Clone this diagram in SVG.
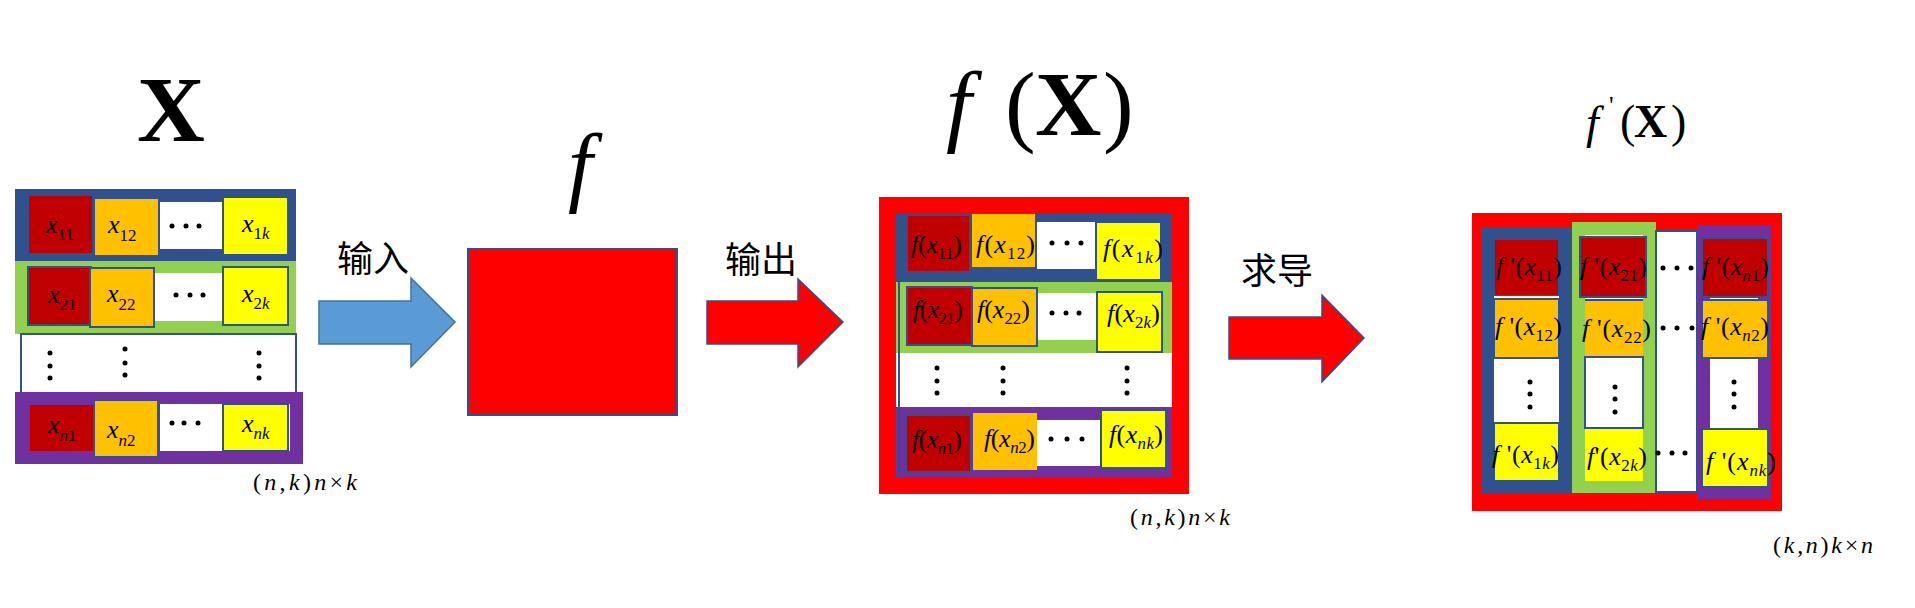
<svg xmlns="http://www.w3.org/2000/svg" width="1915" height="608" viewBox="0 0 1915 608">
<style>
.m{font-family:"Liberation Serif","Times New Roman",serif;font-style:italic;font-size:26px;fill:#000}
.r{font-style:normal}
.s{font-size:17px;font-style:normal}
.si{font-size:17px;font-style:italic}
.lab{font-family:"Liberation Serif","Times New Roman",serif;font-style:italic;font-size:24px;fill:#000}
.cjk{font-family:"Noto Sans CJK SC","Noto Sans",sans-serif;font-size:36px;fill:#000}
.ttl{font-family:"Liberation Serif","Times New Roman",serif;fill:#000}
.dr{fill:#C00000}.or{fill:#FFC000}.ye{fill:#FFFF00}.wh{fill:#FFFFFF}
.bl{fill:#2F528F}.gr{fill:#92D050}.pu{fill:#7030A0}.rd{fill:#FF0000}
.bd{stroke:#2F528F;stroke-width:2}
.dot{fill:#000}
</style>

<!-- Titles -->
<g id="title-x"><text class="ttl" x="137" y="141" font-size="94" font-weight="bold">X</text></g>
<g id="title-f"><text class="ttl" x="568" y="195" font-size="88" font-style="italic">f</text></g>
<g id="title-fx">
<text class="ttl" x="946" y="135" font-size="92" font-style="italic">f</text>
<text class="ttl" x="1005" y="135" font-size="92">(</text>
<text class="ttl" x="1035" y="135" font-size="92" font-weight="bold">X</text>
<text class="ttl" x="1103" y="135" font-size="92">)</text>
</g>
<g id="title-fpx">
<text class="ttl" x="1586" y="138" font-size="46" font-style="italic">f</text>
<text class="ttl" x="1609" y="114" font-size="26">'</text>
<text class="ttl" x="1620" y="137" font-size="46">(</text>
<text class="ttl" x="1634" y="137" font-size="46" font-weight="bold">X</text>
<text class="ttl" x="1671" y="137" font-size="46">)</text>
</g>

<!-- Matrix X -->
<g id="matrix-x">
<rect class="bl" x="15" y="189" width="281" height="72"/>
<rect class="dr" x="29" y="196" width="63" height="57"/>
<rect class="or" x="95" y="199" width="63" height="56"/>
<rect class="wh" x="160" y="202" width="62" height="47"/>
<rect class="ye" x="224" y="198" width="63" height="56"/>
<rect class="gr" x="15" y="261" width="281" height="73"/>
<rect class="wh" x="154" y="273" width="69" height="48"/>
<rect class="dr bd" x="28" y="267" width="63" height="58"/>
<rect class="or bd" x="90" y="268" width="64" height="59"/>
<rect class="ye bd" x="223" y="267" width="65" height="58"/>
<rect class="wh bd" x="21" y="334" width="275" height="59" stroke-width="1.5"/>
<rect class="pu" x="15" y="392" width="288" height="72"/>
<rect class="dr" x="30" y="405" width="63" height="46"/>
<rect class="wh" x="160" y="404" width="62" height="47"/>
<rect class="wh" x="286" y="404" width="4" height="47"/>
<rect class="or bd" x="94" y="400" width="64" height="57"/>
<rect class="ye bd" x="223" y="404" width="65" height="47"/>
<text class="m" x="46" y="233">x<tspan class="s" dy="7">11</tspan></text>
<text class="m" x="108" y="233">x<tspan class="s" dy="8">12</tspan></text>
<text class="m" x="242" y="232">x<tspan class="s" dy="7">1</tspan><tspan class="si">k</tspan></text>
<text class="m" x="48" y="303">x<tspan class="s" dy="7">21</tspan></text>
<text class="m" x="107" y="302">x<tspan class="s" dy="8">22</tspan></text>
<text class="m" x="242" y="302">x<tspan class="s" dy="7">2</tspan><tspan class="si">k</tspan></text>
<text class="m" x="48" y="433">x<tspan class="si" dy="8">n</tspan><tspan class="s">1</tspan></text>
<text class="m" x="107" y="438">x<tspan class="si" dy="8">n</tspan><tspan class="s">2</tspan></text>
<text class="m" x="242" y="432">x<tspan class="si" dy="7">nk</tspan></text>
<g class="dot">
<circle cx="172" cy="226" r="2.5"/><circle cx="186" cy="226" r="2.5"/><circle cx="199" cy="226" r="2.5"/>
<circle cx="176" cy="295" r="2.5"/><circle cx="190" cy="295" r="2.5"/><circle cx="203" cy="295" r="2.5"/>
<circle cx="172" cy="423" r="2.5"/><circle cx="184" cy="423" r="2.5"/><circle cx="198" cy="423" r="2.5"/>
<circle cx="50" cy="353" r="2.5"/><circle cx="50" cy="366" r="2.5"/><circle cx="50" cy="378" r="2.5"/>
<circle cx="125" cy="349" r="2.5"/><circle cx="125" cy="363" r="2.5"/><circle cx="125" cy="375" r="2.5"/>
<circle cx="259" cy="353" r="2.5"/><circle cx="259" cy="366" r="2.5"/><circle cx="259" cy="378" r="2.5"/>
</g>
<text class="lab" x="253" y="490" textLength="104" lengthAdjust="spacing"><tspan class="r">(</tspan>n<tspan class="r">,</tspan>k<tspan class="r">)</tspan>n<tspan class="r">×</tspan>k</text>
</g>

<!-- Function box -->
<g id="func-f">
<rect x="468" y="249" width="209" height="166" fill="#FF0000" stroke="#2F528F" stroke-width="2"/>
</g>

<!-- Matrix f(X) -->
<g id="matrix-fx">
<rect class="rd" x="879" y="197" width="310" height="297"/>
<rect class="bl" x="896" y="214" width="276" height="68"/>
<rect class="dr bd" x="907" y="215" width="63" height="57"/>
<rect class="or" x="972" y="214" width="63" height="53"/>
<rect class="wh" x="1037" y="222" width="58" height="47"/>
<rect class="ye" x="1097" y="223" width="63" height="56"/>
<rect class="gr" x="896" y="282" width="276" height="71"/>
<rect class="wh" x="1037" y="293" width="60" height="47"/>
<rect class="dr bd" x="907" y="287" width="65" height="58"/>
<rect class="or bd" x="972" y="288" width="65" height="58"/>
<rect class="ye bd" x="1097" y="292" width="65" height="60"/>
<rect class="wh" x="896" y="353" width="276" height="54"/>
<rect class="pu" x="896" y="407" width="276" height="70"/>
<rect class="or" x="973" y="413" width="64" height="57"/>
<rect class="wh" x="1037" y="420" width="64" height="46"/>
<rect class="dr bd" x="906" y="415" width="65" height="57"/>
<rect class="ye bd" x="1101" y="410" width="65" height="58"/>
<line x1="899" y1="282" x2="899" y2="477" stroke="#2F528F" stroke-width="2"/>
<text class="m" x="911" y="253" textLength="51" lengthAdjust="spacing">f<tspan class="r">(</tspan>x<tspan class="s" dy="6">11</tspan><tspan class="r" dy="-6">)</tspan></text>
<text class="m" x="976" y="253" textLength="59" lengthAdjust="spacing">f<tspan class="r">(</tspan>x<tspan class="s" dy="6">12</tspan><tspan class="r" dy="-6">)</tspan></text>
<text class="m" x="1103" y="257" textLength="60" lengthAdjust="spacing">f<tspan class="r">(</tspan>x<tspan class="s" dy="6">1</tspan><tspan class="si">k</tspan><tspan class="r" dy="-6">)</tspan></text>
<text class="m" x="913" y="318" textLength="50" lengthAdjust="spacing">f<tspan class="r">(</tspan>x<tspan class="s" dy="6">21</tspan><tspan class="r" dy="-6">)</tspan></text>
<text class="m" x="977" y="318" textLength="53" lengthAdjust="spacing">f<tspan class="r">(</tspan>x<tspan class="s" dy="6">22</tspan><tspan class="r" dy="-6">)</tspan></text>
<text class="m" x="1107" y="322" textLength="53" lengthAdjust="spacing">f<tspan class="r">(</tspan>x<tspan class="s" dy="6">2</tspan><tspan class="si">k</tspan><tspan class="r" dy="-6">)</tspan></text>
<text class="m" x="912" y="448" textLength="50" lengthAdjust="spacing">f<tspan class="r">(</tspan>x<tspan class="si" dy="6">n</tspan><tspan class="s">1</tspan><tspan class="r" dy="-6">)</tspan></text>
<text class="m" x="984" y="447" textLength="51" lengthAdjust="spacing">f<tspan class="r">(</tspan>x<tspan class="si" dy="6">n</tspan><tspan class="s">2</tspan><tspan class="r" dy="-6">)</tspan></text>
<text class="m" x="1109" y="443" textLength="54" lengthAdjust="spacing">f<tspan class="r">(</tspan>x<tspan class="si" dy="6">nk</tspan><tspan class="r" dy="-6">)</tspan></text>
<g class="dot">
<circle cx="1052" cy="243" r="2.5"/><circle cx="1067" cy="243" r="2.5"/><circle cx="1081" cy="243" r="2.5"/>
<circle cx="1052" cy="313" r="2.5"/><circle cx="1066" cy="313" r="2.5"/><circle cx="1079" cy="313" r="2.5"/>
<circle cx="1051" cy="439" r="2.5"/><circle cx="1067" cy="439" r="2.5"/><circle cx="1082" cy="439" r="2.5"/>
<circle cx="937" cy="368" r="2.5"/><circle cx="937" cy="381" r="2.5"/><circle cx="937" cy="393" r="2.5"/>
<circle cx="1003" cy="368" r="2.5"/><circle cx="1003" cy="381" r="2.5"/><circle cx="1003" cy="393" r="2.5"/>
<circle cx="1127" cy="368" r="2.5"/><circle cx="1127" cy="381" r="2.5"/><circle cx="1127" cy="393" r="2.5"/>
</g>
<text class="lab" x="1130" y="525" textLength="100" lengthAdjust="spacing"><tspan class="r">(</tspan>n<tspan class="r">,</tspan>k<tspan class="r">)</tspan>n<tspan class="r">×</tspan>k</text>
</g>

<!-- Matrix f'(X) -->
<g id="matrix-fpx">
<rect class="rd" x="1472" y="213" width="310" height="298"/>
<rect class="bl" x="1481" y="227" width="91" height="266"/>
<rect class="dr" x="1495" y="240" width="63" height="55"/>
<rect class="wh" x="1494" y="296" width="65" height="2"/>
<rect class="or" x="1495" y="300" width="63" height="57"/>
<rect class="wh" x="1494" y="359" width="65" height="63"/>
<rect class="ye" x="1495" y="424" width="63" height="56"/>
<rect class="gr" x="1572" y="222" width="84" height="271"/>
<rect class="wh" x="1585" y="235" width="58" height="64"/>
<rect class="or" x="1585" y="300" width="58" height="57"/>
<line x1="1585" y1="300" x2="1643" y2="300" stroke="#2F528F" stroke-width="2"/>
<rect class="wh bd" x="1585" y="357" width="58" height="71"/>
<rect class="ye" x="1585" y="429" width="58" height="52"/>
<rect class="dr bd" x="1580" y="237" width="66" height="60"/>
<rect class="wh bd" x="1656" y="231" width="41" height="261" stroke-width="1.5"/>
<rect class="pu" x="1697" y="225" width="74" height="274"/>
<rect class="wh" x="1710" y="297" width="48" height="2"/>
<rect class="wh" x="1710" y="359" width="48" height="69"/>
<rect class="dr bd" x="1702" y="238" width="66" height="59"/>
<rect class="or bd" x="1702" y="300" width="66" height="58"/>
<rect class="ye bd" x="1702" y="429" width="66" height="58"/>
<text class="m" x="1496" y="275" textLength="66" lengthAdjust="spacing">f<tspan class="r"> '(</tspan>x<tspan class="s" dy="6">11</tspan><tspan class="r" dy="-6">)</tspan></text>
<text class="m" x="1580" y="275" textLength="67" lengthAdjust="spacing">f<tspan class="r"> '(</tspan>x<tspan class="s" dy="6">21</tspan><tspan class="r" dy="-6">)</tspan></text>
<text class="m" x="1702" y="275" textLength="67" lengthAdjust="spacing">f<tspan class="r"> '(</tspan>x<tspan class="si" dy="6">n</tspan><tspan class="s">1</tspan><tspan class="r" dy="-6">)</tspan></text>
<text class="m" x="1495" y="335" textLength="67" lengthAdjust="spacing">f<tspan class="r"> '(</tspan>x<tspan class="s" dy="6">12</tspan><tspan class="r" dy="-6">)</tspan></text>
<text class="m" x="1582" y="337" textLength="69" lengthAdjust="spacing">f<tspan class="r"> '(</tspan>x<tspan class="s" dy="6">22</tspan><tspan class="r" dy="-6">)</tspan></text>
<text class="m" x="1701" y="335" textLength="68" lengthAdjust="spacing">f<tspan class="r"> '(</tspan>x<tspan class="si" dy="6">n</tspan><tspan class="s">2</tspan><tspan class="r" dy="-6">)</tspan></text>
<text class="m" x="1492" y="463" textLength="67" lengthAdjust="spacing">f<tspan class="r"> '(</tspan>x<tspan class="s" dy="6">1</tspan><tspan class="si">k</tspan><tspan class="r" dy="-6">)</tspan></text>
<text class="m" x="1587" y="465" textLength="60" lengthAdjust="spacing">f<tspan class="r">'(</tspan>x<tspan class="s" dy="6">2</tspan><tspan class="si">k</tspan><tspan class="r" dy="-6">)</tspan></text>
<text class="m" x="1706" y="470" textLength="70" lengthAdjust="spacing">f<tspan class="r"> '(</tspan>x<tspan class="si" dy="6">nk</tspan><tspan class="r" dy="-6">)</tspan></text>
<g class="dot">
<circle cx="1663" cy="268" r="2.5"/><circle cx="1677" cy="268" r="2.5"/><circle cx="1691" cy="268" r="2.5"/>
<circle cx="1663" cy="328" r="2.5"/><circle cx="1677" cy="328" r="2.5"/><circle cx="1692" cy="328" r="2.5"/>
<circle cx="1658" cy="453" r="2.5"/><circle cx="1672" cy="453" r="2.5"/><circle cx="1685" cy="453" r="2.5"/>
<circle cx="1530" cy="382" r="2.5"/><circle cx="1530" cy="394" r="2.5"/><circle cx="1530" cy="407" r="2.5"/>
<circle cx="1615" cy="387" r="2.5"/><circle cx="1615" cy="399" r="2.5"/><circle cx="1615" cy="412" r="2.5"/>
<circle cx="1734" cy="382" r="2.5"/><circle cx="1734" cy="394" r="2.5"/><circle cx="1734" cy="407" r="2.5"/>
</g>
<text class="lab" x="1773" y="553" textLength="100" lengthAdjust="spacing"><tspan class="r">(</tspan>k<tspan class="r">,</tspan>n<tspan class="r">)</tspan>k<tspan class="r">×</tspan>n</text>
</g>

<!-- Connectors -->
<g id="connectors">
<polygon points="319,301 411,301 411,278 455,322 411,367 411,344 319,344" fill="#5B9BD5" stroke="#41719C" stroke-width="1.5"/>
<polygon points="707,301 798,301 798,279 843,322 798,367 798,344 707,344" fill="#FF0000" stroke="#2F528F" stroke-width="1.5"/>
<polygon points="1229,317 1322,317 1322,295 1364,338 1322,382 1322,359 1229,359" fill="#FF0000" stroke="#2F528F" stroke-width="1.5"/>
<text class="cjk" x="337" y="272">输入</text>
<text class="cjk" x="725" y="273">输出</text>
<text class="cjk" x="1241" y="284">求导</text>
</g>
</svg>
